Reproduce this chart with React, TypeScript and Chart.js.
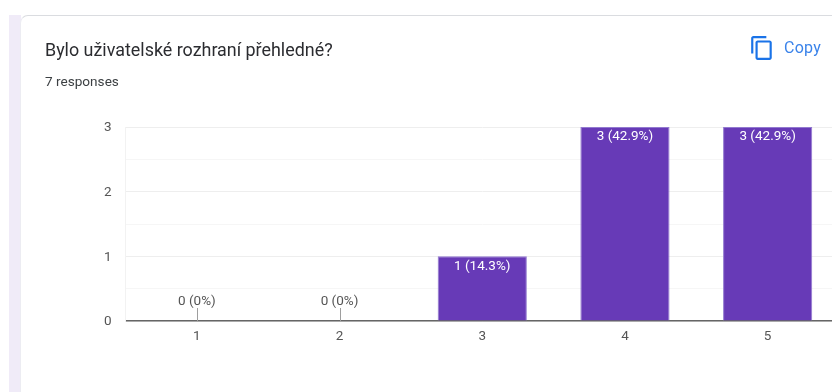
import React, { useEffect, useRef } from "react";
import { Chart, registerables } from "chart.js";

Chart.register(...registerables);

const question = "Bylo uživatelské rozhraní přehledné?";
const responsesLabel = "7 responses";
const copyLabel = "Copy";
const categories = ["1", "2", "3", "4", "5"];
const counts = [0, 0, 1, 3, 3];
const percents = ["0%", "0%", "14.3%", "42.9%", "42.9%"];

const FONT = "Roboto, sans-serif";
const LABEL_SIZE = 13.5;

// Writes "count (percent)" on each bar, or above a short stem for empty answers.
const valueLabels = {
  id: "valueLabels",
  afterDatasetsDraw(chart: any) {
    const { ctx, scales } = chart;
    const y0 = scales.y.getPixelForValue(0);
    ctx.save();
    ctx.font = `${LABEL_SIZE}px ${FONT}`;
    ctx.textAlign = "center";
    ctx.textBaseline = "middle";
    counts.forEach((count, i) => {
      const x = scales.x.getPixelForValue(i);
      const text = `${count} (${percents[i]})`;
      if (count === 0) {
        ctx.strokeStyle = "#9e9e9e";
        ctx.lineWidth = 1;
        ctx.beginPath();
        ctx.moveTo(Math.round(x) + 0.5, y0);
        ctx.lineTo(Math.round(x) + 0.5, y0 - 13);
        ctx.stroke();
        ctx.fillStyle = "#555555";
        ctx.fillText(text, x, y0 - 19);
      } else {
        ctx.fillStyle = "#ffffff";
        ctx.fillText(text, x, scales.y.getPixelForValue(count) + 10);
      }
    });
    ctx.restore();
  },
};

export default function App() {
  const canvasRef = useRef<HTMLCanvasElement | null>(null);

  useEffect(() => {
    const chart = new Chart(canvasRef.current as HTMLCanvasElement, {
      type: "bar",
      data: {
        labels: categories,
        datasets: [
          {
            data: counts,
            backgroundColor: "#673ab7",
            borderColor: "#9279cf",
            borderWidth: 1,
            categoryPercentage: 0.625,
            barPercentage: 1,
          },
        ],
      },
      options: {
        responsive: false,
        animation: false,
        layout: { padding: { top: 127, right: 21, left: 0, bottom: 0 } },
        plugins: { legend: { display: false }, tooltip: { enabled: false } },
        scales: {
          x: {
            afterFit: (axis: any) => {
              axis.height = 71;
            },
            grid: { display: false, drawTicks: false },
            border: { color: "#666666", width: 1.5 },
            ticks: {
              color: "#555555",
              padding: 8,
              font: { family: FONT, size: LABEL_SIZE },
            },
          },
          y: {
            min: 0,
            max: 3,
            afterFit: (axis: any) => {
              axis.width = 125.5;
            },
            grid: {
              drawTicks: false,
              color: (c: any) =>
                Number.isInteger(c.tick.value) ? "#eeeeee" : "#f6f6f6",
            },
            border: { color: "#f2f2f2" },
            ticks: {
              stepSize: 0.5,
              color: "#555555",
              padding: 14,
              labelOffset: 1,
              font: { family: FONT, size: LABEL_SIZE },
              callback: (v: any) => (Number.isInteger(v) ? String(v) : ""),
            },
          },
        },
      },
      plugins: [valueLabels],
    });
    return () => chart.destroy();
  }, []);

  return (
    <div
      style={{
        position: "relative",
        width: 832,
        height: 392,
        overflow: "hidden",
        background: "#ffffff",
        fontFamily: FONT,
      }}
    >
      <style>{"body{margin:0}"}</style>
      <div
        style={{
          position: "absolute",
          left: 9,
          top: 15,
          width: 12,
          height: 377,
          background: "#f0ebf8",
        }}
      />
      <div
        style={{
          position: "absolute",
          left: 20,
          top: 15,
          width: 840,
          height: 400,
          background: "#ffffff",
          borderTop: "1px solid #dadce0",
          borderLeft: "1px solid #ececf2",
          borderTopLeftRadius: 8,
          boxSizing: "border-box",
        }}
      />
      <canvas
        ref={canvasRef}
        width={860}
        height={392}
        style={{ position: "absolute", left: 0, top: 0, width: 860, height: 392 }}
      />
      <div
        style={{
          position: "absolute",
          left: 45,
          top: 40,
          fontSize: 17.9,
          lineHeight: "20px",
          color: "#2b2c30",
          whiteSpace: "nowrap",
        }}
      >
        {question}
      </div>
      <div
        style={{
          position: "absolute",
          left: 45,
          top: 73,
          fontSize: 13.6,
          lineHeight: "16px",
          color: "#3c4043",
          whiteSpace: "nowrap",
        }}
      >
        {responsesLabel}
      </div>
      <svg
        style={{ position: "absolute", left: 749, top: 35 }}
        width="26"
        height="26"
        viewBox="0 0 24 24"
        fill="#1a73e8"
      >
        <path d="M16 1H4c-1.1 0-2 .9-2 2v14h2V3h12V1zm3 4H8c-1.1 0-2 .9-2 2v14c0 1.1.9 2 2 2h11c1.1 0 2-.9 2-2V7c0-1.1-.9-2-2-2zm0 16H8V7h11v14z" />
      </svg>
      <div
        style={{
          position: "absolute",
          left: 784,
          top: 38,
          fontSize: 16,
          lineHeight: "20px",
          fontWeight: 400,
          letterSpacing: 0.25,
          color: "#3a83ea",
          whiteSpace: "nowrap",
        }}
      >
        {copyLabel}
      </div>
    </div>
  );
}
